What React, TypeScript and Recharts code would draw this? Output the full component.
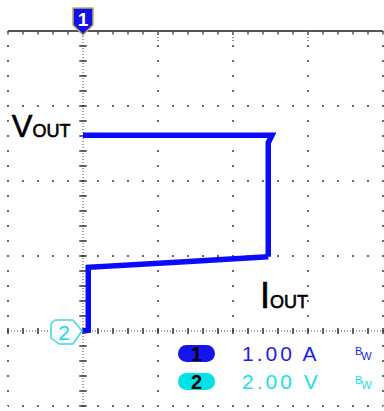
import { LineChart, Line, XAxis, YAxis, ReferenceLine, ReferenceDot } from 'recharts';

// trace coordinates in screen divisions (x: time div from trigger, y: div above ch2 ground)
const voutT = [0, 2.52, 2.47, 2.47];
const voutV = [2.61, 2.61, 2.51, 0.99];
const ioutT = [2.47, 1.3, 0.07, 0.07, 0];
const ioutV = [0.99, 0.92, 0.85, 0.01, 0];

const majorX = [-1, 1, 2, 3, 4];
const majorY = [-1, 1, 2, 3];
const minorTicks = [
  -1, -0.8, -0.6, -0.4, -0.2, 0, 0.2, 0.4, 0.6, 0.8, 1, 1.2, 1.4, 1.6, 1.8, 2, 2.2, 2.4, 2.6, 2.8, 3,
  3.2, 3.4, 3.6, 3.8, 4,
];
const topMajors = [1, 2, 3];

const ch1Scale = '1.00 A';
const ch2Scale = '2.00 V';

const vout = voutT.map((t, i) => ({ t, v: voutV[i] }));
const iout = ioutT.map((t, i) => ({ t, v: ioutV[i] }));

const TRACE = '#0a0aff';
const DOT = '#6a6a6a';
const FONT = '"Liberation Sans", Arial, sans-serif';

function Marker1({ cx, cy }: any) {
  const pts = [
    [-10, -23],
    [10, -23],
    [10, -6],
    [0, 4],
    [-10, -6],
  ]
    .map(([x, y]) => `${cx + x},${cy + y}`)
    .join(' ');
  return (
    <g>
      <polygon points={pts} fill="#1212e6" stroke="#b8ae62" strokeWidth={1.5} strokeLinejoin="round" />
      <text x={cx} y={cy - 5} textAnchor="middle" fill="#fff" fontFamily={FONT} fontWeight="bold" fontSize={19}>
        1
      </text>
    </g>
  );
}

function Marker2({ cx, cy }: any) {
  const pts = [
    [-28, -11],
    [-10, -11],
    [-1, 0],
    [-10, 13],
    [-24, 13],
    [-32, 7],
    [-32, -7],
  ]
    .map(([x, y]) => `${cx + x},${cy + y}`)
    .join(' ');
  return (
    <g>
      <polygon points={pts} fill="#fff" stroke="#3fd6e6" strokeWidth={1.5} strokeLinejoin="round" />
      <text x={cx - 19} y={cy + 9} textAnchor="middle" fill="#18d8e8" fontFamily={FONT} fontSize={21}>
        2
      </text>
    </g>
  );
}

function VoutLabel({ cx, cy }: any) {
  return (
    <text x={cx} y={cy} fill="#000" fontFamily={FONT} stroke="#000" strokeWidth={0.6}>
      <tspan fontSize={31}>V</tspan>
      <tspan fontSize={18}>OUT</tspan>
    </text>
  );
}

function IoutLabel({ cx, cy }: any) {
  return (
    <text x={cx} y={cy} fill="#000" fontFamily={FONT} stroke="#000" strokeWidth={0.6}>
      <tspan fontSize={36}>I</tspan>
      <tspan fontSize={18}>OUT</tspan>
    </text>
  );
}

function Pill({ top, bg, label }: { top: number; bg: string; label: string }) {
  return (
    <div
      style={{
        position: 'absolute',
        left: 178,
        top,
        width: 37,
        height: 17,
        borderRadius: 9,
        background: bg,
        color: '#000',
        fontFamily: FONT,
        fontSize: 20,
        fontWeight: 'bold',
        lineHeight: '18px',
        textAlign: 'center',
      }}
    >
      {label}
    </div>
  );
}

function Bw({ top, color }: { top: number; color: string }) {
  return (
    <div style={{ position: 'absolute', left: 355, top, color, fontFamily: FONT, fontSize: 11, lineHeight: '11px' }}>
      <span>B</span>
      <span style={{ position: 'relative', top: 5, marginLeft: -1 }}>W</span>
    </div>
  );
}

export default function App() {
  return (
    <div style={{ position: 'fixed', left: 0, top: 0, width: 384, height: 411, background: '#fff' }}>
      <LineChart width={384} height={411} margin={{ top: 31, right: 1, bottom: 5, left: 8 }}>
        <XAxis type="number" dataKey="t" domain={[-1, 4]} hide allowDataOverflow />
        <YAxis type="number" domain={[-1, 4]} hide allowDataOverflow />

        {majorX.map((x) => (
          <ReferenceLine key={`vx${x}`} x={x} stroke={DOT} strokeWidth={2} strokeDasharray="2 13" strokeDashoffset={1} />
        ))}
        {majorY.map((y) => (
          <ReferenceLine key={`hy${y}`} y={y} stroke={DOT} strokeWidth={2} strokeDasharray="2 13" strokeDashoffset={1} />
        ))}

        <ReferenceLine x={0} stroke="#444" strokeDasharray="1 2" />
        <ReferenceLine y={0} stroke="#444" strokeDasharray="1 2" />
        {minorTicks.map((y) => (
          <ReferenceLine
            key={`cy${y}`}
            segment={[
              { x: -0.05, y },
              { x: 0.05, y },
            ]}
            stroke="#333"
            strokeWidth={1.5}
          />
        ))}
        {minorTicks.map((x) => (
          <ReferenceLine
            key={`cx${x}`}
            segment={[
              { x, y: -0.04 },
              { x, y: 0.04 },
            ]}
            stroke="#333"
            strokeWidth={1.5}
          />
        ))}

        <ReferenceLine y={4} stroke="#555" strokeWidth={2} />
        {minorTicks.map((x) => (
          <ReferenceLine
            key={`tx${x}`}
            segment={[
              { x, y: 4 },
              { x, y: 3.955 },
            ]}
            stroke="#555"
            strokeWidth={1.5}
          />
        ))}
        {topMajors.map((x) => (
          <ReferenceLine
            key={`tm${x}`}
            segment={[
              { x, y: 4 },
              { x, y: 3.86 },
            ]}
            stroke="#666"
            strokeDasharray="1 2"
            strokeWidth={1.5}
          />
        ))}

        <Line
          data={vout}
          dataKey="v"
          stroke={TRACE}
          strokeWidth={5.5}
          dot={false}
          activeDot={false}
          isAnimationActive={false}
        />
        <Line
          data={iout}
          dataKey="v"
          stroke={TRACE}
          strokeWidth={5.5}
          dot={false}
          activeDot={false}
          isAnimationActive={false}
        />

        <ReferenceDot x={-0.95} y={2.59} r={0} shape={VoutLabel} />
        <ReferenceDot x={2.36} y={0.307} r={0} shape={IoutLabel} />
        <ReferenceDot x={0} y={4} r={0} shape={Marker1} />
        <ReferenceDot x={0} y={0} r={0} shape={Marker2} />
      </LineChart>

      <div style={{ position: 'absolute', left: 172, top: 338, width: 205, height: 62, background: '#fff' }} />
      <Pill top={345} bg="#1414ee" label="1" />
      <Pill top={373} bg="#00e2e8" label="2" />
      <div
        style={{
          position: 'absolute',
          left: 242,
          top: 343,
          color: '#1c1cee',
          fontFamily: FONT,
          fontSize: 21,
          lineHeight: '21px',
          letterSpacing: 3,
          whiteSpace: 'pre',
        }}
      >
        {ch1Scale}
      </div>
      <div
        style={{
          position: 'absolute',
          left: 242,
          top: 371,
          color: '#1ae0e4',
          fontFamily: FONT,
          fontSize: 21,
          lineHeight: '21px',
          letterSpacing: 3,
          whiteSpace: 'pre',
        }}
      >
        {ch2Scale}
      </div>
      <Bw top={346} color="#1c1cee" />
      <Bw top={375} color="#1ae0e4" />
    </div>
  );
}
